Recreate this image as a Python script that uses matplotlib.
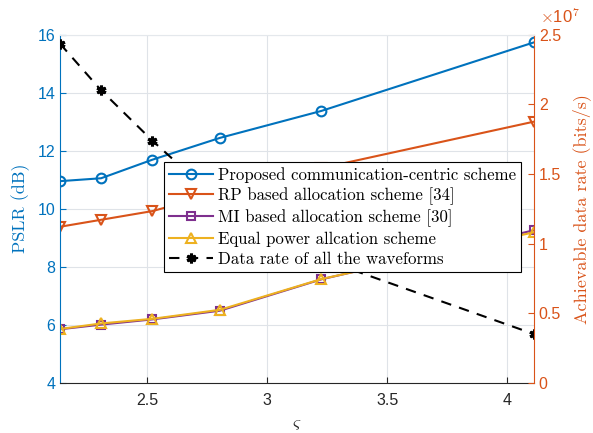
import matplotlib.pyplot as plt

plt.rcParams['mathtext.fontset'] = 'cm'

# valeurs
varsigma = [2.137, 2.308, 2.522, 2.803, 3.226, 4.111]
pslr_proposed = [10.95, 11.05, 11.69, 12.44, 13.37, 15.73]
pslr_rp = [9.38, 9.62, 9.92, 10.55, 11.40, 13.00]
pslr_mi = [5.85, 6.01, 6.19, 6.49, 7.57, 9.26]
pslr_equal = [5.86, 6.05, 6.21, 6.52, 7.58, 9.19]
data_rate = [2.434e7, 2.100e7, 1.738e7, 1.30e7, 0.89e7, 0.351e7]

x_ticks = [2.5, 3, 3.5, 4]
x_ticklabels = ['2.5', '3', '3.5', '4']
rate_ticks = [0, 0.5e7, 1e7, 1.5e7, 2e7, 2.5e7]
rate_ticklabels = ['0', '0.5', '1', '1.5', '2', '2.5']

labels = ["Proposed communication-centric scheme",
          "RP based allocation scheme [34]",
          "MI based allocation scheme [30]",
          "Equal power allcation scheme",
          "Data rate of all the waveforms"]

blue = '#0072BD'
orange = '#D95319'
purple = '#7E2F8E'
yellow = '#EDB120'
dark = '#262626'

fig = plt.figure(figsize=(5.93, 4.33), dpi=100)
ax = fig.add_axes([0.1012, 0.1155, 0.7993, 0.8048])
ax2 = ax.twinx()

l1, = ax.plot(varsigma, pslr_proposed, '-o', color=blue, lw=1.5, ms=7, mfc='none', mew=1.5)
l2, = ax.plot(varsigma, pslr_rp, '-v', color=orange, lw=1.5, ms=7, mfc='none', mew=1.5)
l3, = ax.plot(varsigma, pslr_mi, '-s', color=purple, lw=1.5, ms=6, mfc='none', mew=1.5)
l4, = ax.plot(varsigma, pslr_equal, '-^', color=yellow, lw=1.5, ms=7, mfc='none', mew=1.5)
l5, = ax2.plot(varsigma, data_rate, '--', marker=(6, 2, 0), color='black', lw=1.5,
               ms=7, mew=2.2, dashes=(5, 4))

ax.set_xlim(varsigma[0], varsigma[-1])
ax.set_ylim(4, 16)
ax2.set_ylim(0, 2.5e7)
ax.set_xticks(x_ticks)
ax.set_xticklabels(x_ticklabels)
ax.set_yticks([4, 6, 8, 10, 12, 14, 16])
ax2.set_yticks(rate_ticks)
ax2.set_yticklabels(rate_ticklabels)

ax.grid(True, color='#dfe3e8', lw=0.8)
ax.set_axisbelow(True)

for a in (ax, ax2):
    a.tick_params(direction='in', length=4, width=0.8, labelsize=11.5)
    for s in a.spines.values():
        s.set_visible(False)
ax.spines['left'].set_visible(True)
ax.spines['left'].set_color(blue)
ax.spines['bottom'].set_visible(True)
ax.spines['bottom'].set_color(dark)
ax2.spines['right'].set_visible(True)
ax2.spines['right'].set_color(orange)
ax2.spines['top'].set_visible(True)
ax2.spines['top'].set_color('#e4e8ec')

ax.tick_params(axis='y', colors=blue)
ax.tick_params(axis='x', colors=dark, pad=7)
ax2.tick_params(axis='y', colors=orange, right=True)
for t in ax.get_xticklabels() + ax.get_yticklabels() + ax2.get_yticklabels():
    t.set_family('Liberation Sans')

ax.set_ylabel('PSLR (dB)', color=blue, fontsize=13, family='cmr10', labelpad=5)
ax2.set_ylabel('Achievable data rate (bits/s)', color=orange, fontsize=13, family='cmr10', labelpad=8)
ax.set_xlabel(r'$\varsigma$', color=dark, fontsize=13, labelpad=5)

fig.text(0.911, 0.962, r'$\times$10$^7$', color=orange, fontsize=12, family='Liberation Sans',
         va='center')

leg = ax2.legend([l1, l2, l3, l4, l5], labels, loc='upper left',
                 bbox_to_anchor=(164 / 593, 1 - 161.7 / 433), bbox_transform=fig.transFigure,
                 borderaxespad=0, fancybox=False, edgecolor='black', framealpha=1,
                 prop={'family': 'cmr10', 'size': 12.1}, handlelength=2.6,
                 labelspacing=0.27, borderpad=0.3, handletextpad=0.3)
leg.get_frame().set_linewidth(0.8)

plt.savefig('out.png', dpi=100)
